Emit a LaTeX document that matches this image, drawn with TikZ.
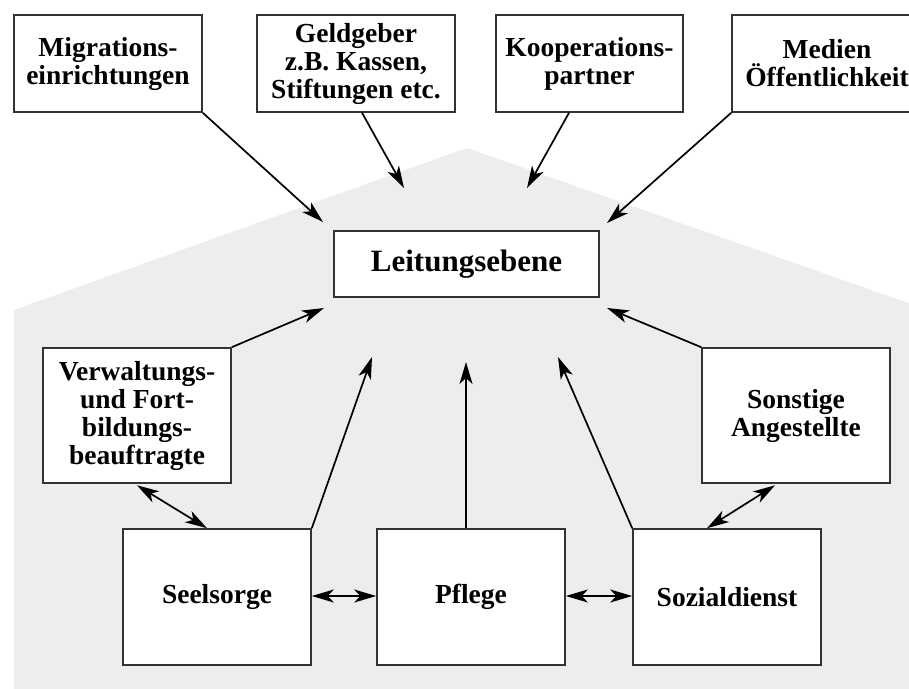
\documentclass[tikz,border=0pt]{standalone}
\usepackage{fontspec}
\setmainfont{Liberation Serif}
\usetikzlibrary{arrows.meta,calc}
\definecolor{housegrey}{HTML}{EDEDED}
\definecolor{boxline}{HTML}{333333}
\tikzset{
  orgbox/.style={draw=boxline, line width=1.6pt, fill=white, align=center,
    inner sep=0pt, font=\bfseries\fontsize{27.5}{28}\selectfont},
  conn/.style={line width=1.7pt, -{Stealth[length=22pt,width=13pt,inset=6pt]}},
  biconn/.style={line width=1.7pt, {Stealth[length=22pt,width=13pt,inset=6pt]}-{Stealth[length=22pt,width=13pt,inset=6pt]}}
}
\begin{document}
\begin{tikzpicture}[x=1pt,y=-1pt]
\useasboundingbox (0,0) rectangle (909,688);
% house background
\fill[housegrey] (14,690) -- (14,310) -- (467,148) -- (911,304) -- (911,690) -- cycle;

% top boxes
\node[orgbox, minimum width=188pt, minimum height=97pt] (mig) at (108,63.5) {Migrations-\\einrichtungen};
\node[orgbox, minimum width=198pt, minimum height=97pt] (geld) at (356,63.5) {Geldgeber\\z.B. Kassen,\\Stiftungen etc.};
\node[orgbox, minimum width=187pt, minimum height=97pt] (koop) at (589.5,63.5) {Kooperations-\\partner};
\node[orgbox, minimum width=190pt, minimum height=97pt] (med) at (827,63.5) {Medien\\Öffentlichkeit};

% centre
\node[orgbox, minimum width=265pt, minimum height=66pt, font=\bfseries\fontsize{31}{32}\selectfont] (leit) at (466.5,264) {Leitungsebene};

% side boxes
\node[orgbox, minimum width=188pt, minimum height=135pt] (verw) at (137,415.5) {Verwaltungs-\\und Fort-\\bildungs-\\beauftragte};
\node[orgbox, minimum width=188pt, minimum height=135pt] (sonst) at (796,415.5) {Sonstige\\Angestellte};

% bottom boxes
\node[orgbox, minimum width=188pt, minimum height=136pt] (seel) at (217,597) {Seelsorge};
\node[orgbox, minimum width=188pt, minimum height=136pt] (pfl) at (471,597) {Pflege};
\node[orgbox, minimum width=188pt, minimum height=136pt] (soz) at (727,597) {Sozialdienst};

% arrow tip coordinates around Leitungsebene
\coordinate (t1) at (323,222);
\coordinate (t2) at (404,188);
\coordinate (t3) at (527,188);
\coordinate (t4) at (607,223);
\coordinate (t5) at (324,308);
\coordinate (t6) at (372,357);
\coordinate (t7) at (466,362);
\coordinate (t8) at (558,357);
\coordinate (t9) at (607,308);

\draw[conn] (mig.south east) -- (t1);
\draw[conn] ([xshift=6pt]geld.south) -- (t2);
\draw[conn] ([xshift=-20.5pt]koop.south) -- (t3);
\draw[conn] (med.south west) -- (t4);
\draw[conn] (verw.north east) -- (t5);
\draw[conn] (seel.north east) -- (t6);
\draw[conn] ([xshift=-5pt]pfl.north) -- (t7);
\draw[conn] (soz.north west) -- (t8);
\draw[conn] (sonst.north west) -- (t9);

\draw[biconn] ([yshift=-1.5pt]verw.south) -- ([xshift=-10pt]seel.north);
\draw[biconn] ([xshift=-21pt,yshift=-1.5pt]sonst.south) -- ([xshift=-20pt]soz.north);
\draw[biconn] ([yshift=1pt]seel.east) -- ([yshift=1pt]pfl.west);
\draw[biconn] ([yshift=1pt]pfl.east) -- ([yshift=1pt]soz.west);
\end{tikzpicture}
\end{document}
